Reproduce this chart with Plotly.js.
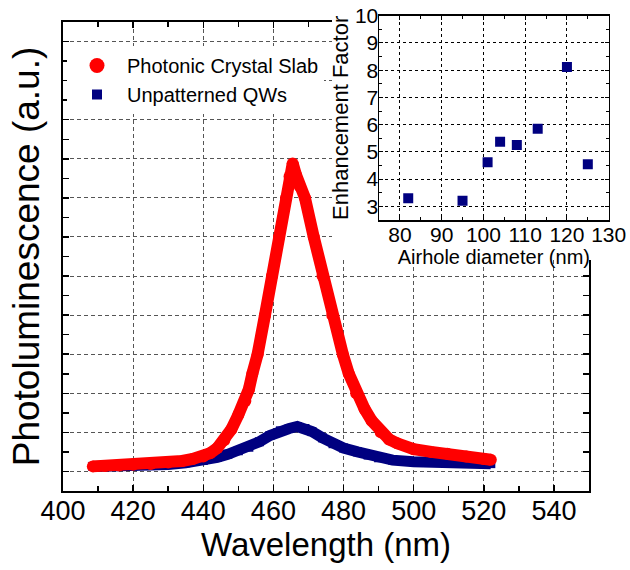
<!DOCTYPE html>
<html>
<head>
<meta charset="utf-8">
<script src="https://cdn.plot.ly/plotly-3.0.1.min.js"></script>
<style>html,body{margin:0;padding:0;background:#fff;}#chart{width:630px;height:570px;}</style>
</head>
<body>
<div id="chart"></div>
<script>
// Photonic crystal slab PL spectrum
const wavelengthPC = [408.5, 412, 416, 420, 425, 430, 434, 437, 440, 442, 444, 446, 448, 450, 452, 453, 454, 455.5, 457.6, 459.6, 461.6, 463.6, 464.6, 465.5, 466.4, 467.5, 469, 471.5, 474, 476.8, 479.8, 481.5, 483.6, 486, 488, 490.6, 493, 495.3, 500, 505, 509.6, 515, 520, 522];
const plPC = [0.13, 0.14, 0.15, 0.17, 0.19, 0.23, 0.27, 0.32, 0.38, 0.47, 0.6, 0.8, 1.08, 1.45, 1.8, 2.1, 2.5, 3.0, 4.0, 5.0, 6.0, 7.0, 7.55, 7.88, 7.6, 7.3, 7.0, 6.0, 5.0, 4.0, 3.0, 2.5, 2.0, 1.6, 1.3, 1.0, 0.82, 0.72, 0.57, 0.5, 0.45, 0.38, 0.32, 0.3];

// Unpatterned QWs PL spectrum
const wavelengthQW = [408.5, 415, 420, 425, 430, 435, 440, 444, 447, 450, 453, 456, 459, 462, 464.5, 466.8, 469, 471, 474, 477, 480, 484, 487, 490, 494, 500, 505, 510, 515, 520, 522];
const plQW = [0.13, 0.13, 0.14, 0.15, 0.18, 0.22, 0.28, 0.36, 0.44, 0.53, 0.62, 0.76, 0.92, 1.04, 1.1, 1.15, 1.1, 1.02, 0.86, 0.71, 0.6, 0.5, 0.42, 0.35, 0.29, 0.25, 0.23, 0.22, 0.21, 0.2, 0.2];

// Inset: enhancement factor vs airhole diameter
const airholeDiameter = [82, 95, 101, 104, 108, 113, 120, 125];
const enhancementFactor = [3.3, 3.21, 4.62, 5.37, 5.25, 5.85, 8.12, 4.55];

const seriesNames = ['Photonic Crystal Slab', 'Unpatterned QWs'];
const mainXTitle = 'Wavelength (nm)';
const mainYTitle = 'Photoluminescence (a.u.)';
const insetXTitle = 'Airhole diameter (nm)';
const insetYTitle = 'Enhancement Factor';

const RED = '#ff0000', NAVY = '#000080';
const FONT = 'Liberation Sans, Arial, Helvetica, sans-serif';

const traces = [
  {x: wavelengthQW, y: plQW, mode: 'lines+markers', showlegend: false, hoverinfo: 'skip',
   line: {color: NAVY, width: 11},
   marker: {color: NAVY, symbol: 'square', size: 9}},
  {x: wavelengthPC, y: plPC, mode: 'lines+markers', showlegend: false, hoverinfo: 'skip',
   line: {color: RED, width: 12},
   marker: {color: RED, symbol: 'circle', size: 12}},
  // legend entries
  {x: [null], y: [null], mode: 'markers', name: seriesNames[0], marker: {color: RED, symbol: 'circle', size: 15}},
  {x: [null], y: [null], mode: 'markers', name: seriesNames[1], marker: {color: NAVY, symbol: 'square', size: 10}},
  // white cover behind inset
  {x: [], y: [], xaxis: 'x2', yaxis: 'y2', showlegend: false, hoverinfo: 'skip', mode: 'markers'},
  // inset
  {x: airholeDiameter, y: enhancementFactor, xaxis: 'x3', yaxis: 'y3', mode: 'markers', showlegend: false,
   marker: {color: NAVY, symbol: 'square', size: 10}}
];

const W = 630, H = 570;
const mL = 63, mR = 0, mT = 0, mB = 79;
const pw = W - mL - mR, ph = H - mT - mB;
function px2x(p) { return (p - mL) / pw; }
function px2y(p) { return (H - mB - p) / ph; }

const layout = {
  width: W, height: H,
  margin: {l: mL, r: mR, t: mT, b: mB, pad: 0},
  paper_bgcolor: '#ffffff', plot_bgcolor: '#ffffff',
  font: {family: FONT, color: '#000'},
  showlegend: true,
  legend: {
    x: px2x(67), y: px2y(46), xanchor: 'left', yanchor: 'top',
    bgcolor: '#ffffff', borderwidth: 0, itemwidth: 50,
    font: {family: FONT, size: 20, color: '#000'},
    tracegroupgap: 0
  },
  xaxis: {
    domain: [0, px2x(589)], range: [400, 550], dtick: 20, tick0: 400,
    showline: true, linecolor: '#000', linewidth: 2, mirror: 'ticks',
    ticks: 'inside', ticklen: 6, tickwidth: 1.5, tickcolor: '#000',
    showgrid: true, gridcolor: '#555', gridwidth: 1, griddash: '4px,3px', zeroline: false,
    minor: {dtick: 10, ticks: 'inside', ticklen: 5, tickwidth: 1.5, tickcolor: '#000', showgrid: false},
    tickfont: {family: FONT, size: 27, color: '#000'}, ticklabelstandoff: -5,
    title: {text: mainXTitle, font: {family: FONT, size: 33, color: '#000'}, standoff: 4},
    automargin: false, fixedrange: true
  },
  yaxis: {
    domain: [0, px2y(22)], range: [-0.5, 11.5], dtick: 1, tick0: 0,
    showline: true, linecolor: '#000', linewidth: 2, mirror: 'ticks',
    ticks: 'inside', ticklen: 6, tickwidth: 1.5, tickcolor: '#000',
    showticklabels: false,
    showgrid: true, gridcolor: '#555', gridwidth: 1, griddash: '4px,3px', zeroline: false,
    minor: {dtick: 0.5, ticks: 'inside', ticklen: 6, tickwidth: 1.5, tickcolor: '#000', showgrid: false},
    title: {text: mainYTitle, font: {family: FONT, size: 37, color: '#000'}, standoff: 10},
    automargin: false, fixedrange: true
  },
  xaxis2: {domain: [px2x(332), 1], anchor: 'y2', visible: false, range: [0, 1], fixedrange: true},
  yaxis2: {domain: [px2y(260), 1], anchor: 'x2', visible: false, range: [0, 1], fixedrange: true},
  xaxis3: {
    domain: [px2x(379), px2x(608.7)], anchor: 'y3', range: [75, 130], dtick: 10, tick0: 80,
    showline: true, linecolor: '#000', linewidth: 1.5, mirror: 'ticks',
    ticks: 'inside', ticklen: 4, tickwidth: 1, tickcolor: '#000',
    showgrid: true, gridcolor: '#000', gridwidth: 1, griddash: 'dot', zeroline: false,
    minor: {dtick: 5, ticks: 'inside', ticklen: 3, tickwidth: 1, tickcolor: '#000', showgrid: false},
    tickfont: {family: FONT, size: 21, color: '#000'}, ticklabelstandoff: -5,
    title: {text: insetXTitle, font: {family: FONT, size: 20, color: '#000'}, standoff: 0},
    automargin: false, fixedrange: true
  },
  yaxis3: {
    domain: [px2y(220), px2y(15.7)], anchor: 'x3', range: [2.5, 10], dtick: 1, tick0: 3,
    showline: true, linecolor: '#000', linewidth: 1.5, mirror: 'ticks',
    ticks: 'inside', ticklen: 4, tickwidth: 1, tickcolor: '#000',
    showgrid: true, gridcolor: '#000', gridwidth: 1, griddash: 'dot', zeroline: false,
    minor: {dtick: 0.5, ticks: 'inside', ticklen: 3, tickwidth: 1, tickcolor: '#000', showgrid: false},
    tickfont: {family: FONT, size: 21, color: '#000'}, ticklabelstandoff: -5,
    title: {text: insetYTitle, font: {family: FONT, size: 22, color: '#000'}, standoff: 0},
    automargin: false, fixedrange: true
  }
};

Plotly.newPlot('chart', traces, layout, {staticPlot: true, displayModeBar: false});
</script>
</body>
</html>
